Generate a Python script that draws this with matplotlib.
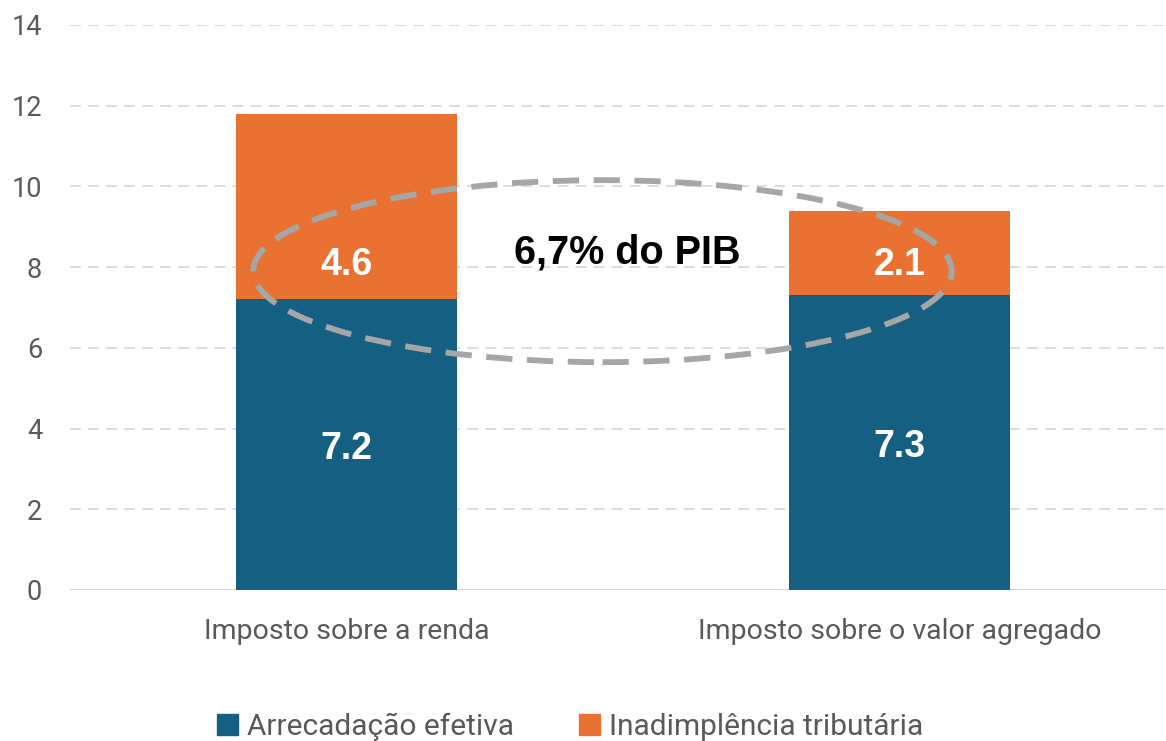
import matplotlib
matplotlib.use("Agg")
import matplotlib.pyplot as plt
from matplotlib.patches import Ellipse, Patch
import numpy as np

# dados
categorias = ["Imposto sobre a renda", "Imposto sobre o valor agregado"]
arrecadacao = [7.2, 7.3]
inadimplencia = [4.6, 2.1]
series = ["Arrecadação efetiva", "Inadimplência tributária"]
destaque = "6,7% do PIB"

azul = "#156082"
laranja = "#E97132"
cinza = "#595959"

fig = plt.figure(figsize=(11.66, 7.41), dpi=100)
ax = fig.add_axes([0.060, 0.2038, 0.940, 0.7625])

x = np.arange(len(categorias))
ax.bar(x, arrecadacao, width=0.40, color=azul, zorder=2)
ax.bar(x, inadimplencia, width=0.40, bottom=arrecadacao, color=laranja, zorder=2)

for i in range(len(x)):
    ax.text(x[i], arrecadacao[i] / 2 - 0.1, f"{arrecadacao[i]:.1f}", ha="center", va="center",
            color="white", fontsize=27, fontweight="bold", family="Liberation Sans", zorder=4)
    ax.text(x[i], 8.06, f"{inadimplencia[i]:.1f}", ha="center", va="center",
            color="white", fontsize=27, fontweight="bold", family="Liberation Sans", zorder=4)

# elipse em volta da inadimplência
el = Ellipse((0.463, 7.90), 1.263, 4.51, fill=False, edgecolor="#A6A6A6", lw=4.2,
             linestyle=(0, (4.5, 2.5)), zorder=3)
ax.add_patch(el)
ax.text(0.507, 8.37, destaque, ha="center", va="center", fontsize=28.5, fontweight="bold",
        family="Liberation Sans", color="black", zorder=4)

ax.set_xlim(-0.5, 1.482)
ax.set_ylim(0, 14)
ax.set_yticks(np.arange(0, 15, 2))
ax.set_xticks(x)
ax.set_xticklabels(categorias, fontsize=20.5, color=cinza, family="Roboto")
ax.tick_params(axis="y", labelsize=19.5, labelcolor=cinza, length=0, pad=20)
ax.tick_params(axis="x", length=0, pad=20)
for lab in ax.get_yticklabels():
    lab.set_family("Roboto")

for y in range(2, 15, 2):
    ax.axhline(y, color="#D9D9D9", lw=1.3, linestyle=(0, (6, 4)), zorder=1)
ax.axhline(0, color="#D9D9D9", lw=1.5, zorder=1)
for s in ax.spines.values():
    s.set_visible(False)

handles = [Patch(color=azul), Patch(color=laranja)]
fig.legend(handles, series, loc="center", bbox_to_anchor=(0.489, 0.019), ncol=2, frameon=False,
           handlelength=0.7, handleheight=0.7, columnspacing=2.2, handletextpad=0.3,
           labelcolor=cinza, prop={"family": "Roboto", "size": 21.5})

fig.savefig("out.png", dpi=100)
